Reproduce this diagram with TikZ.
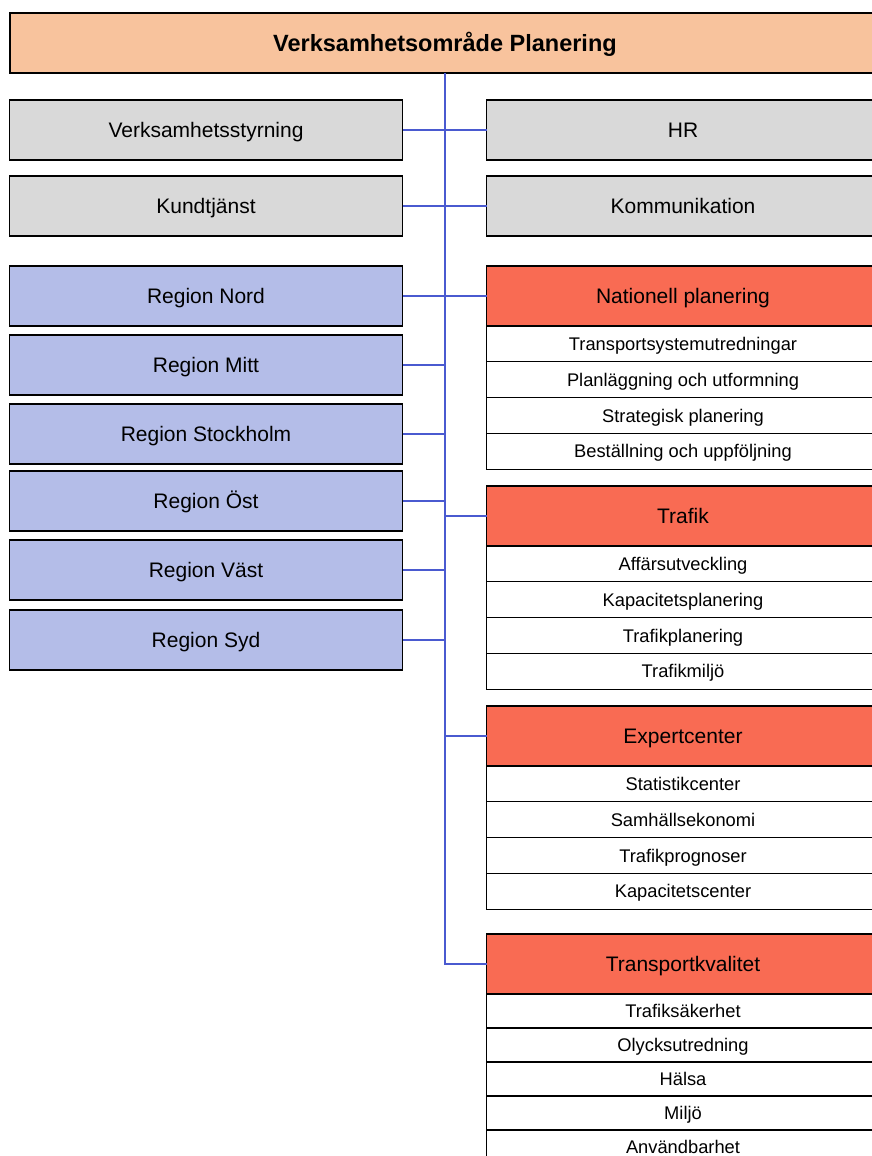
\documentclass[tikz,border=0pt]{standalone}
\usepackage{fontspec}
\setmainfont{Liberation Sans}
\usepackage{xcolor}
\usetikzlibrary{positioning}
\definecolor{topfill}{HTML}{F8C39D}
\definecolor{stabfill}{HTML}{D9D9D9}
\definecolor{regfill}{HTML}{B4BDE8}
\definecolor{headfill}{HTML}{F96B53}
\definecolor{linkblue}{HTML}{4A5AD0}

\begin{document}
\begin{tikzpicture}[x=1pt,y=-1pt,
	box/.style={draw=black,line width=1.3pt,inner sep=0pt,outer sep=0pt,minimum width=393pt,minimum height=60pt,text height=15pt,text depth=0pt,font=\fontsize{21}{25}\selectfont},
	stab/.style={box,fill=stabfill},
	region/.style={box,fill=regfill},
	head/.style={box,fill=headfill},
	subrow/.style={box,fill=white,minimum height=#1,text height=13pt,font=\fontsize{18.3}{22}\selectfont},
	link/.style={draw=linkblue,line width=1.3pt}]
	\useasboundingbox (0,0) rectangle (872,1156);
	\clip (0,0) rectangle (872,1156);
	\node[box,fill=topfill,minimum width=870pt,text height=17pt,font=\fontsize{23.5}{28}\selectfont\bfseries] (top) at (445,43) {Verksamhetsområde Planering};
	% staff units
	\foreach \n/\t/\x/\y in {styr/Verksamhetsstyrning/206/130,kund/Kundtjänst/206/206,hr/HR/683/130,komm/Kommunikation/683/206}{\node[stab] (\n) at (\x,\y) {\t};}
	% regions
	\foreach \n/\t/\y in {nord/Region Nord/296,mitt/Region Mitt/365,sthlm/Region Stockholm/434,ost/Region Öst/501,vast/Region Väst/570,syd/Region Syd/640}{\node[region] (\n) at (206,\y) {\t};}
	% departments with their units
	\node[head,alias=np0] (natpl) at (683,296) {Nationell planering};
	\foreach \t [count=\k, remember=\k as \p (initially 0)] in {Transportsystemutredningar,Planläggning och utformning,Strategisk planering,Beställning och uppföljning}{\node[subrow=35.8pt,below=0pt of np\p] (np\k) {\t};}
	\node[head,alias=tr0] (trafik) at (683,516) {Trafik};
	\foreach \t [count=\k, remember=\k as \p (initially 0)] in {Affärsutveckling,Kapacitetsplanering,Trafikplanering,Trafikmiljö}{\node[subrow=35.8pt,below=0pt of tr\p] (tr\k) {\t};}
	\node[head,alias=ex0] (expert) at (683,736) {Expertcenter};
	\foreach \t [count=\k, remember=\k as \p (initially 0)] in {Statistikcenter,Samhällsekonomi,Trafikprognoser,Kapacitetscenter}{\node[subrow=35.8pt,below=0pt of ex\p] (ex\k) {\t};}
	\node[head,alias=tk0] (kval) at (683,964) {Transportkvalitet};
	\foreach \t [count=\k, remember=\k as \p (initially 0)] in {Trafiksäkerhet,Olycksutredning,Hälsa,Miljö,Användbarhet}{\node[subrow=34pt,below=0pt of tk\p] (tk\k) {\t};}
	% connectors
	\draw[link] (top.south) |- (kval.west);
	\foreach \a in {styr,kund,nord,mitt,sthlm,ost,vast,syd}{\draw[link] (\a.east) -- (\a.east -| top.south);}
	\foreach \b in {hr,komm,natpl,trafik,expert}{\draw[link] (\b.west -| top.south) -- (\b.west);}
\end{tikzpicture}
\end{document}
